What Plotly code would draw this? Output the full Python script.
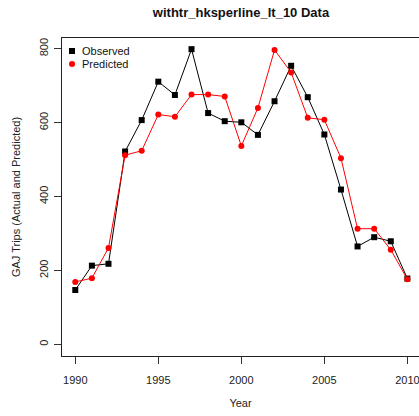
import plotly.graph_objects as go

years = list(range(1990, 2011))
observed = [147, 213, 218, 522, 607, 711, 675, 799, 626, 604, 601, 567, 658, 754,
            669, 568, 419, 265, 290, 279, 178]
predicted = [169, 179, 261, 512, 524, 622, 616, 676, 676, 671, 537, 640, 797, 736,
             613, 608, 504, 313, 313, 256, 176]
x_ticks = [1990, 1995, 2000, 2005, 2010]
y_ticks = [0, 200, 400, 600, 800]
legend_labels = ["Observed", "Predicted"]
legend_colors = ["black", "#ff0000"]
legend_shapes = ["rect", "circle"]

FONT = "Liberation Sans, Arial, sans-serif"
W, H = 419, 416
L, R, T, B = 62, 0, 38, 60
PW, PH = W - L - R, H - T - B

fig = go.Figure()
fig.add_trace(go.Scatter(x=years, y=observed, mode="lines+markers", showlegend=False,
                         line=dict(color="black", width=1),
                         marker=dict(symbol="square", size=6, color="black")))
fig.add_trace(go.Scatter(x=years, y=predicted, mode="lines+markers", showlegend=False,
                         line=dict(color="#ff0000", width=1),
                         marker=dict(symbol="circle", size=6, color="#ff0000")))

# R-style legend (marker only) in the top-left corner
for i, (lab, col, shp) in enumerate(zip(legend_labels, legend_colors, legend_shapes)):
    py = 51 + 13 * i
    yp = 1 - (py - T) / PH
    xm = (72 - L) / PW
    fig.add_shape(type=shp, xref="paper", yref="paper", xsizemode="pixel",
                  ysizemode="pixel", xanchor=xm, yanchor=yp, x0=-3, x1=3, y0=-3, y1=3,
                  fillcolor=col, line=dict(width=0))
    fig.add_annotation(text=lab, xref="paper", yref="paper", x=(80 - L) / PW, y=yp,
                       xanchor="left", yanchor="middle", showarrow=False,
                       font=dict(size=11, color="#111"))

fig.update_layout(
    width=W, height=H,
    margin=dict(l=L, r=R, t=T, b=B),
    plot_bgcolor="white", paper_bgcolor="white",
    font=dict(family=FONT, size=11, color="#222"),
    title=dict(text="<b>withtr_hksperline_lt_10 Data</b>", x=241 / W, xanchor="center",
               y=1 - 12 / H, yanchor="middle", yref="container",
               font=dict(size=13, color="#111", family=FONT)),
    showlegend=False,
    xaxis=dict(range=[1989.2, 2010.7], tickvals=x_ticks, ticks="outside", ticklen=7,
               tickcolor="#333", showgrid=False, zeroline=False, automargin=False,
               ticklabeloverflow="allow", ticklabelstandoff=7,
               showline=True, linecolor="#222", linewidth=1, mirror=True,
               title=dict(text="Year", standoff=14, font=dict(size=11))),
    yaxis=dict(range=[-31.6, 829.2], tickvals=y_ticks, ticks="outside", ticklen=7,
               tickcolor="#333", tickangle=-90, showgrid=False, zeroline=False,
               automargin=False, ticklabelstandoff=2,
               showline=True, linecolor="#222", linewidth=1,
               title=dict(text="GAJ Trips (Actual and Predicted)", standoff=14,
                          font=dict(size=11))),
)

fig.write_html("out.html", config={"displayModeBar": False},
               post_script="document.body.style.margin='0';")
